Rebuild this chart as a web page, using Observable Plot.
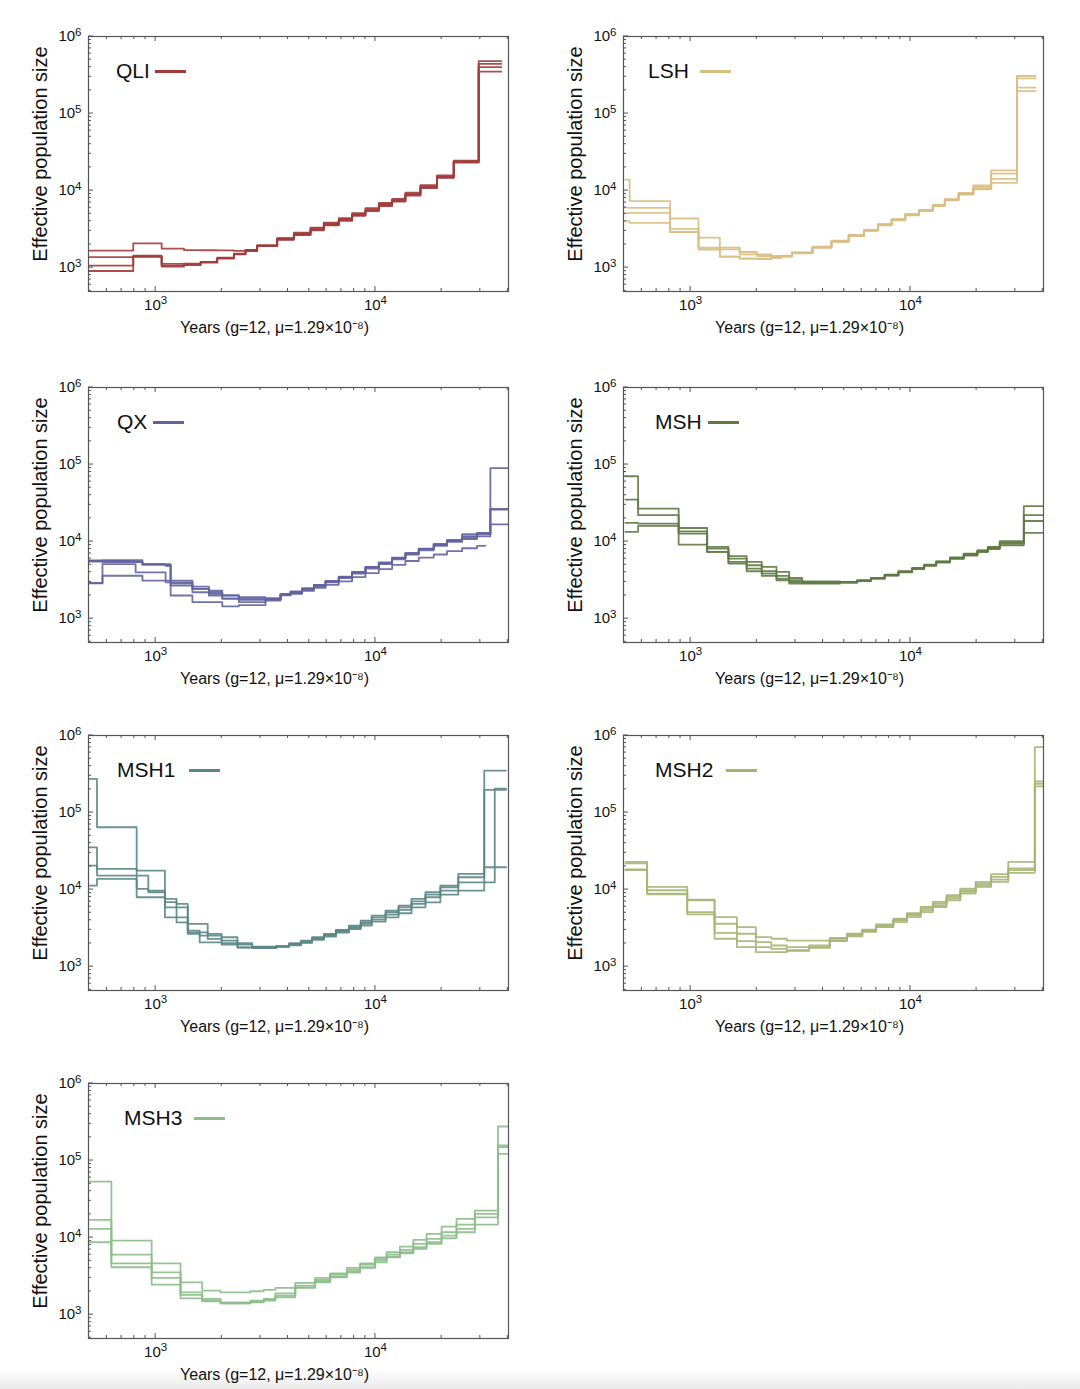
<!DOCTYPE html>
<html><head><meta charset="utf-8">
<script src="https://cdn.jsdelivr.net/npm/d3@7"></script>
<script src="https://cdn.jsdelivr.net/npm/@observablehq/plot@0.6"></script>
<style>
body{margin:0;background:#fff;font-family:"Liberation Sans",Arial,Helvetica,sans-serif;}
#root{position:relative;width:1080px;height:1389px;overflow:hidden;}
.panel{position:absolute;width:535px;height:349px;}
.legend{position:absolute;display:flex;align-items:center;font-size:21px;color:#111;line-height:24px;white-space:nowrap;}
.legend .sw{display:inline-block;height:3px;width:31px;}
#shade{position:absolute;left:0;right:0;bottom:0;height:20px;background:linear-gradient(rgba(235,235,235,0),rgba(232,232,232,0.9));}
</style></head><body><div id="root"><div id="shade"></div></div>
<script>
// ---------- data (years = step start times; Ne per step, one array per line) ----------
const qliYears = [500, 791, 1065, 1346, 1603, 1907, 2270, 2564, 2897, 3573, 4254, 5067, 5823, 6811, 7833, 9010, 10360, 11910, 13690, 16020, 19070, 22700, 29480, 37400];
const qliNe = [
  [1660, 2070, 1770, 1690, 1680, 1670, 1650, 1700, 1950, 2390, 2780, 3220, 3750, 4270, 4960, 5710, 6700, 7560, 9050, 11300, 15200, 23900, 480000],
  [1365, 1435, 1117, 1130, 1190, 1350, 1520, 1680, 1950, 2420, 2850, 3300, 3850, 4400, 5100, 5900, 6900, 7800, 9400, 11800, 15800, 24500, 440000],
  [1062, 1380, 1035, 1080, 1160, 1310, 1490, 1640, 1900, 2300, 2650, 3050, 3550, 4050, 4700, 5400, 6300, 7200, 8600, 10800, 14600, 23000, 400000],
  [904, 1400, 1062, 1100, 1180, 1330, 1500, 1660, 1920, 2330, 2700, 3100, 3600, 4150, 4800, 5550, 6450, 7350, 8800, 11000, 14900, 23400, 350000]
];
const lshYears = [504, 528, 806, 1086, 1358, 1671, 2003, 2330, 2595, 2890, 3587, 4374, 5237, 6152, 7110, 8210, 9480, 10940, 12640, 14330, 16550, 19330, 23300, 30500, 37150];
const lshNe = [
  [13900, 7280, 4345, 2445, 1815, 1596, 1486, 1415, 1430, 1580, 1870, 2240, 2650, 3100, 3670, 4260, 4950, 5630, 6530, 7750, 9300, 11700, 18300, 307000],
  [6000, 5970, 3190, 1727, 1727, 1486, 1415, 1388, 1415, 1563, 1850, 2212, 2620, 3070, 3630, 4215, 4895, 5570, 6460, 7650, 9140, 11150, 16600, 286000],
  [5100, 5140, 2890, 1727, 1388, 1307, 1307, 1350, 1400, 1545, 1830, 2180, 2590, 3030, 3580, 4160, 4830, 5500, 6380, 7550, 9000, 10700, 14150, 217000],
  [4000, 3820, 2890, 1815, 1388, 1307, 1290, 1340, 1390, 1530, 1810, 2160, 2560, 3000, 3540, 4110, 4770, 5430, 6300, 7450, 8850, 10400, 12560, 196000]
];
const qxYears = [495, 573, 811, 871, 1110, 1170, 1470, 1747, 2010, 2390, 3160, 3700, 4110, 4640, 5250, 5930, 6810, 7830, 9010, 10360, 11910, 13690, 15740, 18410, 21170, 24780, 28980, 31620, 33330, 40090];
const qxNe = [
  [5700, 5740, 5740, 5100, 5100, 2960, 2430, 2200, 1995, 1900, 1850, 2100, 2250, 2480, 2750, 3100, 3500, 4050, 4700, 5350, 6200, 7100, 8100, 9300, 10500, 12500, 13000, 13000, 90000],
  [5500, 5400, 5400, 5100, 4900, 2690, 2200, 1995, 1820, 1820, 1800, 2060, 2200, 2430, 2690, 3030, 3440, 3990, 4630, 5260, 6100, 7000, 7960, 9070, 10200, 11300, 12400, 12400, 26000],
  [2870, 5100, 3980, 3980, 2960, 2870, 2430, 2100, 1820, 1640, 1760, 2030, 2150, 2380, 2640, 2950, 3350, 3850, 4450, 5100, 5900, 6800, 7700, 8800, 9900, 10800, 11700, 11700, 16700],
  [2900, 3600, 3600, 3110, 3110, 1995, 1640, 1640, 1440, 1500, 1720, 2000, 2100, 2300, 2500, 2750, 3050, 3450, 3900, 4400, 5000, 5600, 6200, 6800, 7500, 8200, 8800],
  [5600, 5600, 5500, 5000, 4860, 3110, 2600, 2300, 2000, 1750, 1780, 2050, 2200, 2420, 2700, 3050, 3480, 4000, 4650, 5300, 6150, 7050, 8000, 9150, 10300, 11800, 12800, 12800, 26500]
];
const mshYears = [505, 577, 882, 1189, 1486, 1798, 2106, 2458, 2808, 3219, 4784, 5728, 6610, 7634, 8815, 10180, 11550, 13100, 15130, 17470, 20170, 22490, 25490, 32790, 40270];
const mshNe = [
  [70500, 26800, 15000, 8530, 6460, 5440, 4690, 4040, 3370, 3050, 2990, 3150, 3370, 3720, 4120, 4550, 5030, 5550, 6250, 6980, 7710, 8530, 10100, 28800],
  [35100, 22000, 13600, 8120, 6020, 4930, 4120, 3580, 3150, 2940, 2990, 3120, 3350, 3700, 4080, 4500, 4980, 5500, 6150, 6900, 7600, 8400, 9700, 22000],
  [17500, 17100, 12700, 7340, 5440, 4460, 3840, 3310, 2990, 2940, 2940, 3100, 3320, 3650, 4050, 4450, 4900, 5400, 6050, 6750, 7450, 8200, 9420, 18500],
  [13400, 16000, 9140, 7340, 5180, 4120, 3580, 3150, 2850, 2850, 2940, 3080, 3300, 3620, 4000, 4400, 4850, 5350, 5950, 6600, 7300, 8000, 8960, 12980]
];
const msh1Years = [494, 541, 820, 926, 1102, 1245, 1400, 1586, 1725, 1996, 2357, 2750, 3540, 4050, 4590, 5150, 5830, 6610, 7570, 8570, 9620, 11120, 12740, 14590, 16890, 19740, 23820, 31260, 34900, 39300];
const msh1Ne = [
  [274000, 64400, 17660, 17660, 7560, 6510, 3580, 3580, 2660, 2405, 2010, 1820, 1850, 2010, 2180, 2405, 2660, 2990, 3410, 3960, 4590, 5340, 6190, 7560, 9230, 11270, 15960, 351000, 351000],
  [35400, 18550, 15200, 9700, 6860, 5890, 2940, 2790, 2530, 2180, 1930, 1780, 1840, 1970, 2130, 2350, 2600, 2940, 3310, 3770, 4370, 5080, 5890, 7050, 8620, 10720, 14450, 197000, 197000],
  [20500, 15200, 10200, 9230, 5890, 4360, 2790, 2530, 2290, 2010, 1780, 1765, 1820, 1930, 2070, 2290, 2530, 2850, 3180, 3580, 4080, 4730, 5440, 6510, 7950, 9700, 12440, 12440, 205000],
  [11270, 13770, 7950, 7950, 4360, 3760, 2660, 2070, 2070, 1930, 1760, 1745, 1800, 1890, 2030, 2220, 2450, 2760, 3080, 3410, 3840, 4370, 4930, 5890, 6840, 8620, 9700, 19500, 19500]
];
const msh2Years = [505, 634, 965, 1285, 1624, 1981, 2328, 2738, 3459, 4295, 5140, 6040, 6980, 8360, 9640, 11140, 12640, 14590, 16860, 19820, 23290, 27870, 36800, 40270];
const msh2Ne = [
  [22960, 10830, 7410, 4400, 3260, 2410, 2300, 2180, 2180, 2360, 2670, 3010, 3530, 4180, 4960, 5940, 6910, 8440, 10300, 12590, 15850, 22960, 705000],
  [21840, 9800, 7260, 3600, 2670, 2080, 1880, 1790, 1880, 2300, 2620, 2950, 3430, 4060, 4770, 5650, 6570, 8020, 9800, 11970, 14620, 18790, 253000],
  [18230, 8870, 5110, 2750, 2140, 1790, 1700, 1620, 1790, 2180, 2540, 2890, 3320, 3980, 4620, 5370, 6250, 7630, 9320, 11380, 13490, 17870, 236000],
  [17870, 8690, 4770, 2300, 1790, 1540, 1540, 1620, 1750, 2140, 2470, 2820, 3260, 3790, 4400, 5110, 5940, 7260, 8870, 10830, 12590, 16490, 218000]
];
const msh3Years = [498, 629, 959, 1298, 1629, 1973, 2700, 3103, 3505, 4318, 5318, 6224, 7408, 8518, 9958, 11240, 12930, 14870, 17090, 19990, 23380, 28320, 36100, 39880];
const msh3Ne = [
  [53300, 9140, 4640, 2630, 2050, 1950, 2010, 2090, 2220, 2580, 2995, 3440, 4040, 4640, 5550, 6450, 7640, 9330, 11160, 13890, 17470, 22400, 276700],
  [16950, 6010, 3545, 1950, 1600, 1446, 1520, 1600, 1890, 2380, 2820, 3310, 3800, 4460, 5280, 6010, 6910, 8270, 9610, 11730, 14740, 20300, 156700],
  [12960, 4640, 2995, 1800, 1520, 1403, 1475, 1550, 1765, 2265, 2710, 3115, 3620, 4120, 5030, 5660, 6450, 7490, 8700, 10620, 12960, 18350, 122000],
  [8700, 4120, 2450, 1630, 1490, 1403, 1446, 1520, 1680, 2220, 2630, 3055, 3510, 4040, 4780, 5550, 6260, 7120, 8270, 9800, 11730, 14740, 149000]
];

// axis ticks
const xMajorTicks = [1000, 10000];
const xMinorTicks = [600, 700, 800, 900, 2000, 3000, 4000, 5000, 6000, 7000, 8000, 9000, 20000, 30000, 40000];
const yMajorTicks = [1000, 10000, 100000, 1000000];
const yMinorTicks = [500, 600, 700, 800, 900, 2000, 3000, 4000, 5000, 6000, 7000, 8000, 9000,
  20000, 30000, 40000, 50000, 60000, 70000, 80000, 90000, 200000, 300000, 400000, 500000, 600000, 700000, 800000, 900000];
const yTitle = "Effective population size";
const xTitle = "Years (g=12, \u03bc=1.29\u00d710\u207b\u2078)";

const panels = [
  {name: "QLI",  color: "#a23a3a", years: qliYears,  ne: qliNe,  col: 0, row: 0, lx: 116, gap: 5},
  {name: "LSH",  color: "#d9be82", years: lshYears,  ne: lshNe,  col: 1, row: 0, lx: 113, gap: 11},
  {name: "QX",   color: "#62639e", years: qxYears,   ne: qxNe,   col: 0, row: 1, lx: 117, gap: 6},
  {name: "MSH",  color: "#5e7a42", years: mshYears,  ne: mshNe,  col: 1, row: 1, lx: 120, gap: 6},
  {name: "MSH1", color: "#5a8786", years: msh1Years, ne: msh1Ne, col: 0, row: 2, lx: 117, gap: 14},
  {name: "MSH2", color: "#a6b574", years: msh2Years, ne: msh2Ne, col: 1, row: 2, lx: 120, gap: 13},
  {name: "MSH3", color: "#8cbd89", years: msh3Years, ne: msh3Ne, col: 0, row: 3, lx: 124, gap: 12}
];
const rowTops = [0, 351, 699, 1047];

// ---------- helpers ----------
const fmtPow = d => "10^" + Math.round(Math.log10(d));

function toRows(years, ne) {
  const rows = [];
  ne.forEach((vals, k) => {
    vals.forEach((v, i) => rows.push({id: k, year: years[i], ne: v}));
    rows.push({id: k, year: years[vals.length], ne: vals[vals.length - 1]});
  });
  return rows;
}

function inwardTicks(index, scales, values, dim) {
  const {x, y} = scales;
  const L = dim.marginLeft, R = dim.width - dim.marginRight, T = dim.marginTop, B = dim.height - dim.marginBottom;
  const g = d3.create("svg:g").attr("stroke", "#555").attr("stroke-width", 1).attr("fill", "none");
  const seg = (x1, y1, x2, y2) => g.append("line").attr("x1", x1).attr("y1", y1).attr("x2", x2).attr("y2", y2);
  const xs = [...xMajorTicks.map(v => [v, 5]), ...xMinorTicks.map(v => [v, 3])];
  for (const [v, len] of xs) {
    const px = x(v);
    if (px < L || px > R) continue;
    seg(px, B, px, B - len);
    seg(px, T, px, T + len);
  }
  const ys = [...yMajorTicks.map(v => [v, 5]), ...yMinorTicks.map(v => [v, 3])];
  for (const [v, len] of ys) {
    const py = y(v);
    if (py < T || py > B) continue;
    seg(L, py, L + len, py);
  }
  return g.node();
}

// turn "10^3" tick labels into 10 + superscript
function superscriptLabels(svg) {
  svg.querySelectorAll("text").forEach(t => {
    const s = t.textContent;
    if (!/^10\^\d$/.test(s)) return;
    const [base, exp] = s.split("^");
    t.textContent = base;
    const ts = document.createElementNS("http://www.w3.org/2000/svg", "tspan");
    ts.setAttribute("dy", "-0.5em");
    ts.setAttribute("font-size", "11.5px");
    ts.textContent = exp;
    t.appendChild(ts);
  });
}

const root = document.getElementById("root");
for (const p of panels) {
  const div = document.createElement("div");
  div.className = "panel";
  div.style.left = (p.col * 535) + "px";
  div.style.top = rowTops[p.row] + "px";
  const rows = toRows(p.years, p.ne);
  const chart = Plot.plot({
    width: 535, height: 349,
    marginTop: 36, marginBottom: 58, marginLeft: 88, marginRight: 27,
    style: {fontFamily: "'Liberation Sans', Arial, Helvetica, sans-serif", fontSize: "15px", color: "#111", background: "transparent", overflow: "visible"},
    x: {type: "log", domain: [495, 40300]},
    y: {type: "log", domain: [490, 1000000]},
    marks: [
      Plot.line(rows, {x: "year", y: "ne", z: "id", curve: "step-after", stroke: p.color, strokeWidth: 1.8, strokeOpacity: 0.9, clip: true}),
      Plot.frame({stroke: "#555", strokeWidth: 1.2}),
      inwardTicks,
      Plot.axisX(xMajorTicks, {tickSize: 0, tickPadding: 8, tickFormat: fmtPow, fontSize: 15, fill: "#111", label: null}),
      Plot.axisY(yMajorTicks, {tickSize: 0, tickPadding: 7, tickFormat: fmtPow, fontSize: 15, fill: "#111", label: null}),
      Plot.text([yTitle], {text: d => d, frameAnchor: "left", textAnchor: "middle", lineAnchor: "middle", rotate: -90, dx: -48, dy: -10, fontSize: 20, fill: "#111"}),
      Plot.text([xTitle], {text: d => d, frameAnchor: "bottom", textAnchor: "middle", lineAnchor: "middle", dx: -24, dy: 36, fontSize: 16, fill: "#111"})
    ]
  });
  superscriptLabels(chart);
  div.appendChild(chart);
  const lg = document.createElement("div");
  lg.className = "legend";
  lg.style.left = p.lx + "px";
  lg.style.top = "59px";
  lg.style.gap = p.gap + "px";
  const t = document.createElement("span");
  t.textContent = p.name;
  const sw = document.createElement("span");
  sw.className = "sw";
  sw.style.background = p.color;
  lg.appendChild(t); lg.appendChild(sw);
  div.appendChild(lg);
  root.appendChild(div);
}
</script>
</body></html>
